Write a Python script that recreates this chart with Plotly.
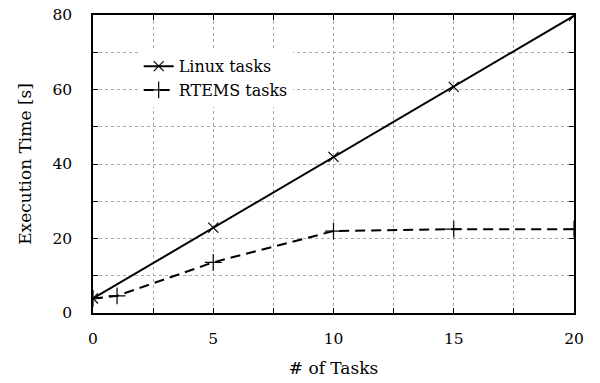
import plotly.graph_objects as go

tasks_linux = [0, 5, 10, 15, 20]
time_linux = [3.9, 22.9, 41.9, 60.7, 79.8]
tasks_rtems = [0, 1, 5, 10, 15, 20]
time_rtems = [3.9, 4.6, 13.6, 22.0, 22.5, 22.5]

FONT = "DejaVu Serif"
TF = dict(family=FONT, size=15.5, color="black")
TITLEF = dict(family=FONT, size=17, color="black")

fig = go.Figure()
fig.add_trace(go.Scatter(
    x=tasks_linux, y=time_linux, mode="lines+markers", name="Linux tasks",
    line=dict(color="black", width=2),
    marker=dict(symbol="x-thin", size=10, color="black", line=dict(width=1.2, color="black")),
))
fig.add_trace(go.Scatter(
    x=tasks_rtems, y=time_rtems, mode="lines+markers", name="RTEMS tasks",
    line=dict(color="black", width=2, dash="10px,6px"),
    marker=dict(symbol="cross-thin", size=12, color="black", line=dict(width=1.2, color="black")),
))

grid = dict(showgrid=True, gridcolor="#aaaaaa", griddash="dot", gridwidth=1)
fig.update_xaxes(
    range=[0, 20], dtick=5, tick0=0, ticks="inside", ticklen=5, tickcolor="black",
    showline=True, linecolor="black", linewidth=1.5, mirror="allticks",
    zeroline=False, automargin=False, tickfont=TF, ticklabelstandoff=11,
    ticklabeloverflow="allow",
    minor=dict(dtick=2.5, ticks="inside", ticklen=5, tickcolor="black", showgrid=True,
               gridcolor="#aaaaaa", griddash="dot", gridwidth=1),
    title=dict(text="# of Tasks", standoff=15, font=TITLEF),
    **grid,
)
fig.update_yaxes(
    range=[0, 80], dtick=20, tick0=0, ticks="inside", ticklen=5, tickcolor="black",
    showline=True, linecolor="black", linewidth=1.5, mirror="allticks",
    zeroline=False, automargin=False, tickfont=TF, ticklabelstandoff=16,
    ticklabeloverflow="allow",
    minor=dict(dtick=10, ticks="inside", ticklen=5, tickcolor="black", showgrid=True,
               gridcolor="#aaaaaa", griddash="dot", gridwidth=1),
    title=dict(text="Execution Time [s]", standoff=16, font=TITLEF),
    **grid,
)
fig.update_layout(
    width=600, height=383,
    margin=dict(l=85, r=34, t=7, b=78),
    paper_bgcolor="white", plot_bgcolor="white",
    font=dict(family=FONT, size=16, color="black"),
    showlegend=True,
    legend=dict(x=0.095, y=0.885, xanchor="left", yanchor="top", bgcolor="white",
                borderwidth=0, font=dict(family=FONT, size=16), tracegroupgap=0,
                itemwidth=30),
)
fig.write_html("out.html")
